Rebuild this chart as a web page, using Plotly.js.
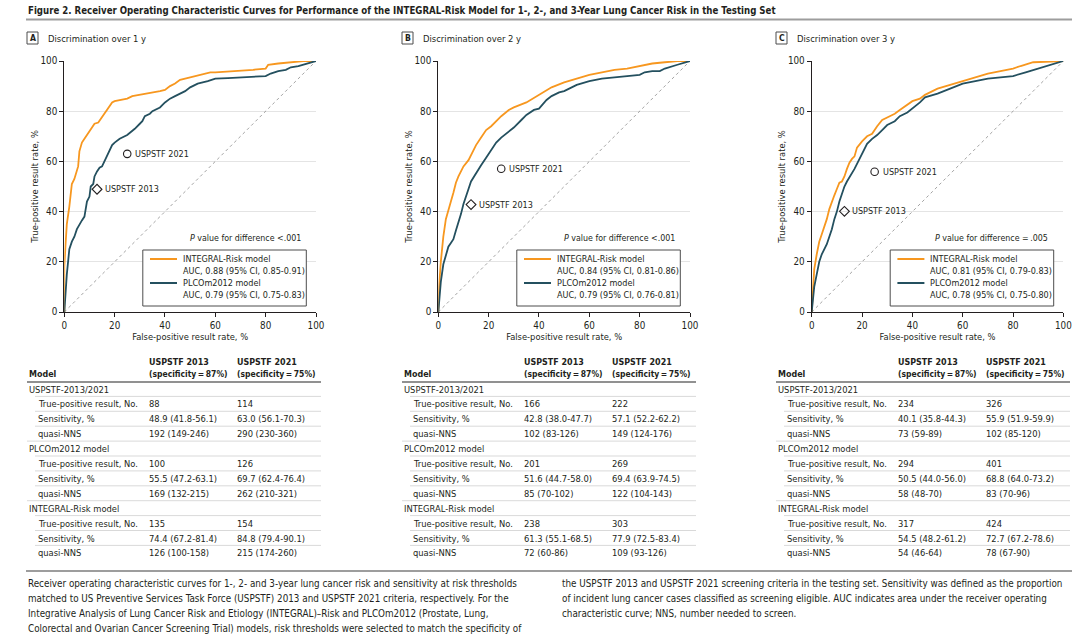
<!DOCTYPE html>
<html>
<head>
<meta charset="utf-8">
<script src="https://cdn.plot.ly/plotly-3.0.1.min.js"></script>
<style>
  html, body { margin: 0; padding: 0; background: #fff; }
  #chart { width: 1080px; height: 642px; }
</style>
</head>
<body>
<div id="chart"></div>
<script>
// ---------- ROC curve points: false-positive rate (%) and true-positive rate (%) ----------
// 1-year horizon
const fpr1Integral = [0,0,0.5,1,2,2.5,3,4,5,5.5,6,7,8,9,10,11,12,13.5,14.5,15,16,17,18,19,20,22,25,27,30,33,35,38,40,42,44,46,48,50,53,55,58,60,70,75,80,81,85,90,95,100];
const tpr1Integral = [0,18,27,35,42,46,51,53,56,58,64,67.5,69,70.5,72,73.5,75,75.5,77,78,79,81,82,83.5,84,84.5,85,86,86.5,87,87.5,88,88.5,90,91,92.5,93,93.5,94.5,95,95.5,95.5,96,96.5,97,98.5,99,99.5,100,100];
const fpr1Plco = [0,0.3,0.5,1,1.5,2,3,4,5,6,7,8,8.5,9,10,10.5,11.5,12,13,14,15,16,17,18,19,20,22,25,27,28,30,31,32,34,35,38,40,42,44,46,48,50,53,57,60,65,70,75,80,82,85,88,90,93,95,100];
const tpr1Plco = [0,5,9,15,20,25,28,30,33,35,36.5,38,41,44,46,50,51,54,56,57.5,58,60,62.5,64.5,66.5,67.5,69,70.5,72,73,75,76,78,79,80,81.5,83.5,85,86,87,88,89.5,91,92,93,93.2,93.5,93.7,94,95,96,96.5,97.5,98,98.5,100];

// 2-year horizon
const fpr2Integral = [0,0.3,1,2,3,4,5,6,7,8,10,12,14,15,17,19,21,23,25,28,30,35,40,45,50,55,60,65,70,75,80,85,90,95,100];
const tpr2Integral = [0,10,20,30,37,41,44,47.5,51.5,54,58,60.5,64.5,66.5,69.5,72.5,74,76,78,80.5,81.5,83.5,86.5,89.5,91.5,93,94.5,95.5,96.5,97,98,99,99.5,100,100];
const fpr2Plco = [0,0.5,1,2,3,4,5,6,7,8,9,10,11,12,13,15,17,19,21,23,25,28,30,33,35,38,40,43,45,48,50,53,55,60,65,70,75,80,82,85,88,90,95,100];
const tpr2Plco = [0,7,12,19,23,26,27.5,29,32.5,35.5,39,43,46.5,49,52,55.5,58.5,61.5,64.5,67.5,69.5,72,73.5,76.5,78.5,80.5,81,84.5,86,87.5,88,89.5,90.5,92,93,93.5,94,94.5,95.5,96,96,97,98.5,100];

// 3-year horizon
const fpr3Integral = [0,0.5,1,2,3,4,5,6,7,8,9,10,11,12,13,14,15,16,17,18,19,20,22,24,26,28,30,33,35,38,40,43,45,48,50,55,60,65,70,75,80,83,88,100];
const tpr3Integral = [0,10,17,23,28,31,34,37,41,44,46.5,49,51.5,52,54,57,59.5,61,62,65.5,67,68,70,71,74,76.5,77.5,79,80.5,82.5,84,85,86.5,88,89,90.5,92,93.5,95,96,97,98,99.5,100];
const fpr3Plco = [0,0.5,1,2,3,4,5,6,7,8,9,10,11,12,13,14,15,16,17,18,19,20,21,22,24,26,28,30,33,35,38,40,43,45,48,50,55,60,65,70,75,80,85,90,95,100];
const tpr3Plco = [0,5,10,15,20,23,25,27,30,33,37,40,44,47,50,52,53.5,55.5,57,59,61,63,65.5,67,69,70.5,72.5,74.5,76,78,79.5,81,83.5,85.5,86.5,87,89,91,92,93,93.5,94,95.5,97,98.5,100];

// ---------- Panel texts ----------
const panelLetters = ['A', 'B', 'C'];
const panelTitles = ['Discrimination over 1 y', 'Discrimination over 2 y', 'Discrimination over 3 y'];
const aucIntegral = ['0.88 (95% CI, 0.85-0.91)', '0.84 (95% CI, 0.81-0.86)', '0.81 (95% CI, 0.79-0.83)'];
const aucPlco = ['0.79 (95% CI, 0.75-0.83)', '0.79 (95% CI, 0.76-0.81)', '0.78 (95% CI, 0.75-0.80)'];
const pValues = ['&lt;.001', '&lt;.001', '=\u2009.005'];
const axisTicks = [0, 20, 40, 60, 80, 100];

// ---------- Sensitivity tables ----------
const criteriaNames = ['USPSTF 2013', 'USPSTF 2021'];
const criteriaSpecificity = [87, 75];
const tableGroups = ['USPSTF-2013/2021', 'PLCOm2012 model', 'INTEGRAL-Risk model'];
const tableMeasures = ['True-positive result, No.', 'Sensitivity, %', 'quasi-NNS'];

const table1y2013 = ['88', '48.9 (41.8-56.1)', '192 (149-246)', '100', '55.5 (47.2-63.1)', '169 (132-215)', '135', '74.4 (67.2-81.4)', '126 (100-158)'];
const table1y2021 = ['114', '63.0 (56.1-70.3)', '290 (230-360)', '126', '69.7 (62.4-76.4)', '262 (210-321)', '154', '84.8 (79.4-90.1)', '215 (174-260)'];
const table2y2013 = ['166', '42.8 (38.0-47.7)', '102 (83-126)', '201', '51.6 (44.7-58.0)', '85 (70-102)', '238', '61.3 (55.1-68.5)', '72 (60-86)'];
const table2y2021 = ['222', '57.1 (52.2-62.2)', '149 (124-176)', '269', '69.4 (63.9-74.5)', '122 (104-143)', '303', '77.9 (72.5-83.4)', '109 (93-126)'];
const table3y2013 = ['234', '40.1 (35.8-44.3)', '73 (59-89)', '294', '50.5 (44.0-56.0)', '58 (48-70)', '317', '54.5 (48.2-61.2)', '54 (46-64)'];
const table3y2021 = ['326', '55.9 (51.9-59.9)', '102 (85-120)', '401', '68.8 (64.0-73.2)', '83 (70-96)', '424', '72.7 (67.2-78.6)', '78 (67-90)'];

// ---------- Figure texts ----------
const figureTitle = 'Figure 2. Receiver Operating Characteristic Curves for Performance of the INTEGRAL-Risk Model for 1-, 2-, and 3-Year Lung Cancer Risk in the Testing Set';
const captionLeft = [
  'Receiver operating characteristic curves for 1-, 2- and 3-year lung cancer risk and sensitivity at risk thresholds',
  'matched to US Preventive Services Task Force (USPSTF) 2013 and USPSTF 2021 criteria, respectively. For the',
  'Integrative Analysis of Lung Cancer Risk and Etiology (INTEGRAL)\u2013Risk and PLCOm2012 (Prostate, Lung,',
  'Colorectal and Ovarian Cancer Screening Trial) models, risk thresholds were selected to match the specificity of'
];
const captionRight = [
  'the USPSTF 2013 and USPSTF 2021 screening criteria in the testing set. Sensitivity was defined as the proportion',
  'of incident lung cancer cases classified as screening eligible. AUC indicates area under the receiver operating',
  'characteristic curve; NNS, number needed to screen.'
];

// ---------- Styling ----------
const W = 1080, H = 642;
const FONT = '"DejaVu Sans Condensed", sans-serif';
const TEXT = '#231f20';
const ORANGE = '#f7971f';
const TEAL = '#24505f';
const px = x => x / W;
const py = y => 1 - y / H;
const f = (size, color = TEXT) => ({ family: FONT, size, color });

const plotLeft = [64.3, 438.3, 811.7];
const plotWidth = 251.7;
const plotTop = 61, plotBottom = 312;
const tableLeft = [27, 402, 776];

const curves = [
  [fpr1Integral, tpr1Integral, fpr1Plco, tpr1Plco],
  [fpr2Integral, tpr2Integral, fpr2Plco, tpr2Plco],
  [fpr3Integral, tpr3Integral, fpr3Plco, tpr3Plco]
];
const tables = [
  [table1y2013, table1y2021],
  [table2y2013, table2y2021],
  [table3y2013, table3y2021]
];

const traces = [];
const annotations = [];
const shapes = [];
const layout = {
  width: W, height: H,
  margin: { l: 0, r: 0, t: 0, b: 0 },
  paper_bgcolor: '#fff', plot_bgcolor: '#fff',
  showlegend: false,
  font: f(9.6),
  annotations, shapes
};

function txt(x, y, text, opts = {}) {
  annotations.push(Object.assign({
    xref: 'paper', yref: 'paper', x: px(x), y: py(y), text,
    showarrow: false, xanchor: 'left', yanchor: 'middle', font: f(9.3)
  }, opts));
}
function hline(x0, x1, y, color, width) {
  shapes.push({ type: 'line', xref: 'paper', yref: 'paper',
    x0: px(x0), x1: px(x1), y0: py(y), y1: py(y), line: { color, width } });
}

// Figure title and top rule
txt(26, 10, '<b>' + figureTitle + '</b>', { font: f(9.6) });
hline(26, 1072, 19.5, '#9d9d9d', 2);

for (let p = 0; p < 3; p++) {
  const s = p === 0 ? '' : String(p + 1);
  const xa = 'x' + s, ya = 'y' + s;
  const x0 = plotLeft[p];
  const [fI, tI, fP, tP] = curves[p];

  const axisCommon = {
    range: [0, 100], tickvals: axisTicks, ticktext: axisTicks.map(String),
    showline: true, linecolor: '#231f20', linewidth: 1,
    ticks: 'outside', ticklen: 4, tickcolor: '#231f20', tickwidth: 1,
    tickfont: f(9.8), zeroline: false, fixedrange: true
  };
  layout['xaxis' + s] = Object.assign({}, axisCommon, {
    domain: [px(x0), px(x0 + plotWidth)], anchor: ya, showgrid: false,
    title: { text: 'False-positive result rate, %', font: f(9.3), standoff: 3 }
  });
  layout['yaxis' + s] = Object.assign({}, axisCommon, {
    domain: [py(plotBottom), py(plotTop)], anchor: xa,
    showgrid: true, gridcolor: '#e4e4e4', gridwidth: 1,
    title: { text: 'True-positive result rate, %', font: f(9.3), standoff: 0 }
  });

  // Chance line
  traces.push({ x: [0, 100], y: [0, 100], xaxis: xa, yaxis: ya, mode: 'lines',
    line: { color: '#8c8c8c', width: 0.8, dash: 'dot' }, hoverinfo: 'skip' });
  // Model curves
  traces.push({ x: fI, y: tI, xaxis: xa, yaxis: ya, mode: 'lines', name: 'INTEGRAL-Risk model',
    line: { color: ORANGE, width: 1.8 } });
  traces.push({ x: fP, y: tP, xaxis: xa, yaxis: ya, mode: 'lines', name: 'PLCOm2012 model',
    line: { color: TEAL, width: 1.8 } });

  // USPSTF criteria operating points (sensitivity from the table, FPR = 100 - specificity)
  const symbols = ['diamond-open', 'circle-open'];
  for (let c = 0; c < 2; c++) {
    const fpr = 100 - criteriaSpecificity[c];
    const sens = parseFloat(tables[p][c][1]);
    traces.push({ x: [fpr], y: [sens], xaxis: xa, yaxis: ya, mode: 'markers', cliponaxis: false,
      marker: { symbol: symbols[c], size: 7.5, color: TEXT, line: { color: TEXT, width: 1.1 } },
      name: criteriaNames[c] });
    annotations.push({ xref: xa, yref: ya, x: fpr, y: sens, text: criteriaNames[c],
      showarrow: false, xanchor: 'left', yanchor: 'middle', xshift: 6, font: f(9) });
  }

  // Panel header
  const tl = tableLeft[p];
  shapes.push({ type: 'rect', xref: 'paper', yref: 'paper',
    x0: px(tl), x1: px(tl + 11), y0: py(44), y1: py(32), line: { color: '#4d4d4d', width: 1 } });
  txt(tl + 5.5, 38.3, '<b>' + panelLetters[p] + '</b>', { xanchor: 'center', font: f(8.6) });
  txt(tl + 19, 38, panelTitles[p], { font: f(9.4) });

  // P value and legend box
  txt(x0 + 238.7, 238, '<i>P</i> value for difference ' + pValues[p], { xanchor: 'right', font: f(8.8) });
  shapes.push({ type: 'rect', xref: 'paper', yref: 'paper', layer: 'above',
    x0: px(x0 + 78.5), x1: px(x0 + 242), y0: py(306), y1: py(250),
    line: { color: '#4d4d4d', width: 1 }, fillcolor: '#fff' });
  shapes.push({ type: 'line', xref: 'paper', yref: 'paper', layer: 'above',
    x0: px(x0 + 85.7), x1: px(x0 + 112.7), y0: py(259), y1: py(259), line: { color: ORANGE, width: 2 } });
  shapes.push({ type: 'line', xref: 'paper', yref: 'paper', layer: 'above',
    x0: px(x0 + 85.7), x1: px(x0 + 112.7), y0: py(283), y1: py(283), line: { color: TEAL, width: 2 } });
  txt(x0 + 116.7, 259, 'INTEGRAL-Risk model', { font: f(9) });
  txt(x0 + 116.7, 271, 'AUC, ' + aucIntegral[p], { font: f(9) });
  txt(x0 + 116.7, 283, 'PLCOm2012 model', { font: f(9) });
  txt(x0 + 116.7, 294.5, 'AUC, ' + aucPlco[p], { font: f(9) });

  // Table
  const c1 = tl + 120, c2 = tl + 208, tr = tl + 294;
  txt(tl, 374, '<b>Model</b>', { font: f(8.9) });
  for (let c = 0; c < 2; c++) {
    const cx = c === 0 ? c1 : c2;
    txt(cx, 362, '<b>' + criteriaNames[c] + '</b>', { font: f(8.9) });
    txt(cx, 374, '<b>(specificity\u2009=\u2009' + criteriaSpecificity[c] + '%)</b>', { font: f(8.5) });
  }
  hline(tl, tr, 382, '#6d6d6d', 1.5);
  let row = 0;
  const rowY = r => 389 + 14.9 * r;
  for (let g = 0; g < 3; g++) {
    txt(tl, rowY(row), tableGroups[g]);
    hline(tl + 8, tr, rowY(row) + 7.4, '#cfcfcf', 0.8);
    row++;
    for (let m = 0; m < 3; m++) {
      const y = rowY(row);
      txt(tl + 9, y, tableMeasures[m]);
      txt(c1, y, tables[p][0][g * 3 + m]);
      txt(c2, y, tables[p][1][g * 3 + m]);
      if (!(g === 2 && m === 2)) {
        hline(m === 2 ? tl : tl + 8, tr, y + 7.4, '#cfcfcf', 0.8);
      }
      row++;
    }
  }
}

// Caption with rule
hline(26, 1072, 571, '#9d9d9d', 2);
captionLeft.forEach((line, i) => txt(26, 583 + 15 * i, line, { font: f(9.8) }));
captionRight.forEach((line, i) => txt(560, 583 + 15 * i, line, { font: f(9.8) }));

Plotly.newPlot('chart', traces, layout, { staticPlot: true, displayModeBar: false });
</script>
</body>
</html>
